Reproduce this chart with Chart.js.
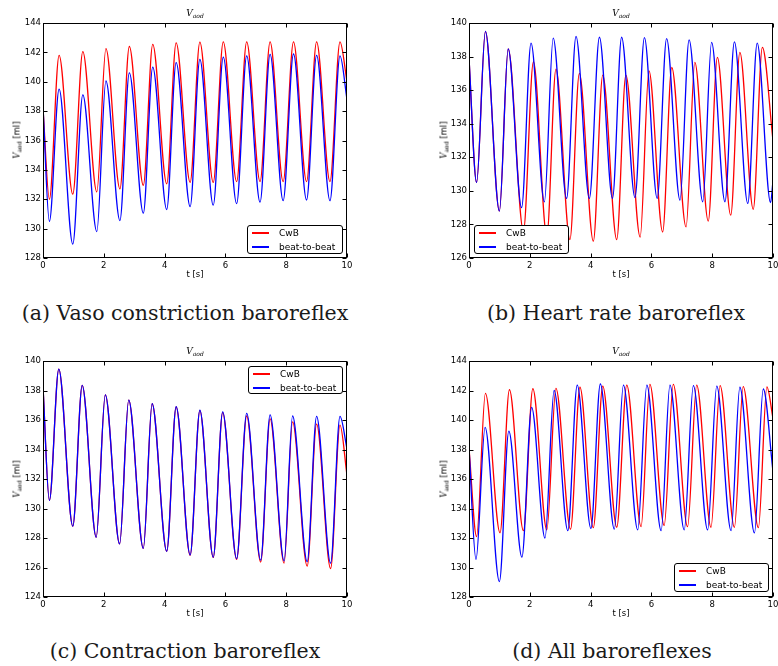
<!DOCTYPE html>
<html lang="en">
<head>
<meta charset="UTF-8">
<title>V_aod baroreflex comparison</title>
<script src="https://cdn.jsdelivr.net/npm/chart.js"></script>
<style>
  body { margin: 0; background: #fff; width: 778px; height: 666px; position: relative; overflow: hidden;
         font-family: "DejaVu Sans", sans-serif; color: #000; }
  canvas { position: absolute; }
  .cap { position: absolute; font-family: "DejaVu Serif", serif; font-size: 20.5px; color: #1a1a1a;
         white-space: nowrap; transform: translate(-50%, -50%); }
  .ttl { position: absolute; font-family: "DejaVu Serif", serif; font-style: italic; font-size: 9px;
         transform: translate(-50%, -50%); white-space: nowrap; }
  .ttl sub, .ylab sub { font-size: 6px; vertical-align: -2px; }
  .ylab { position: absolute; font-size: 8.5px; transform: translate(-50%, -50%) rotate(-90deg); white-space: nowrap; }
  .ylab i { font-family: "DejaVu Serif", serif; }
  .xlab { position: absolute; font-size: 8.5px; transform: translate(-50%, -50%); white-space: nowrap; }
  .legend { position: absolute; background: #fff; border: 1px solid #000; border-radius: 3px;
            font-size: 9px; box-sizing: border-box; }
  .legend div { position: relative; height: 14px; line-height: 14px; padding-left: 31px; white-space: nowrap; }
  .legend div span { position: absolute; left: 4px; top: 6px; width: 17px; height: 1.5px; }
</style>
</head>
<body>

<!-- (a) -->
<canvas id="cA" width="354" height="265" style="left:3px; top:13px"></canvas>
<div class="ttl" style="left:195px; top:13px">V<sub>aod</sub></div>
<div class="ylab" style="left:17px; top:140px"><i>V</i><sub>aod</sub> [ml]</div>
<div class="xlab" style="left:195px; top:274px">t [s]</div>
<div class="legend" style="left:247px; top:225px; width:96px; height:29px">
  <div><span style="background:#f00"></span>CwB</div>
  <div><span style="background:#00f"></span>beat-to-beat</div>
</div>
<div class="cap" style="left:185px; top:313px">(a) Vaso constriction baroreflex</div>

<!-- (b) -->
<canvas id="cB" width="354" height="265" style="left:429px; top:13px"></canvas>
<div class="ttl" style="left:621px; top:13px">V<sub>aod</sub></div>
<div class="ylab" style="left:444px; top:140px"><i>V</i><sub>aod</sub> [ml]</div>
<div class="xlab" style="left:621px; top:274px">t [s]</div>
<div class="legend" style="left:474px; top:225px; width:95px; height:29px">
  <div><span style="background:#f00"></span>CwB</div>
  <div><span style="background:#00f"></span>beat-to-beat</div>
</div>
<div class="cap" style="left:616px; top:313px">(b) Heart rate baroreflex</div>

<!-- (c) -->
<canvas id="cC" width="354" height="266" style="left:3px; top:351px"></canvas>
<div class="ttl" style="left:195px; top:351px">V<sub>aod</sub></div>
<div class="ylab" style="left:17px; top:479px"><i>V</i><sub>aod</sub> [ml]</div>
<div class="xlab" style="left:195px; top:613px">t [s]</div>
<div class="legend" style="left:248px; top:366px; width:95px; height:28px">
  <div><span style="background:#f00"></span>CwB</div>
  <div><span style="background:#00f"></span>beat-to-beat</div>
</div>
<div class="cap" style="left:185px; top:651px">(c) Contraction baroreflex</div>

<!-- (d) -->
<canvas id="cD" width="354" height="266" style="left:429px; top:351px"></canvas>
<div class="ttl" style="left:621px; top:351px">V<sub>aod</sub></div>
<div class="ylab" style="left:444px; top:479px"><i>V</i><sub>aod</sub> [ml]</div>
<div class="xlab" style="left:621px; top:613px">t [s]</div>
<div class="legend" style="left:674px; top:563px; width:95px; height:29px">
  <div><span style="background:#f00"></span>CwB</div>
  <div><span style="background:#00f"></span>beat-to-beat</div>
</div>
<div class="cap" style="left:612px; top:651px">(d) All baroreflexes</div>

<script>
    // (a) vaso constriction - both series share the beat times
    const aT    = [0, 0.21, 0.53, 0.98, 1.31, 1.77, 2.07, 2.53, 2.84, 3.30, 3.61, 4.07, 4.38, 4.84, 5.16, 5.60, 5.93, 6.37, 6.70, 7.14, 7.47, 7.90, 8.24, 8.67, 9.00, 9.44, 9.77, 10];
    const aRed  = [138.2, 132.0, 141.8, 132.35, 142.05, 132.5, 142.25, 132.7, 142.4, 132.95, 142.55, 133.05, 142.65, 133.15, 142.7, 133.15, 142.72, 133.2, 142.72, 133.2, 142.72, 133.2, 142.72, 133.2, 142.72, 133.2, 142.72, 140.0];
    const aBlue = [138.3, 130.5, 139.5, 128.95, 139.1, 129.8, 140.05, 130.55, 140.6, 131.05, 141.0, 131.3, 141.3, 131.5, 141.53, 131.6, 141.67, 131.7, 141.76, 131.8, 141.87, 131.9, 141.89, 131.95, 141.8, 131.9, 141.76, 138.8];

    // (b) heart rate
    const bRedT  = [0, 0.25, 0.54, 1.0, 1.29, 1.79, 2.12, 2.56, 2.86, 3.32, 3.63, 4.09, 4.40, 4.86, 5.16, 5.63, 5.92, 6.37, 6.67, 7.14, 7.43, 7.87, 8.17, 8.61, 8.91, 9.35, 9.65, 10];
    const bRed   = [137.9, 130.5, 139.5, 128.8, 138.45, 127.6, 137.7, 127.3, 137.25, 127.1, 137.0, 127.0, 136.9, 127.1, 136.9, 127.25, 137.15, 127.55, 137.35, 127.85, 137.65, 128.2, 137.95, 128.55, 138.25, 128.9, 138.55, 133.0];
    const bBlueT = [0, 0.25, 0.54, 1.0, 1.29, 1.73, 2.04, 2.48, 2.77, 3.21, 3.52, 3.96, 4.29, 4.72, 5.02, 5.46, 5.77, 6.19, 6.50, 6.94, 7.24, 7.69, 7.98, 8.42, 8.73, 9.17, 9.48, 9.92, 10];
    const bBlue  = [137.9, 130.5, 139.5, 128.8, 138.45, 129.0, 138.8, 129.35, 139.1, 129.55, 139.2, 129.55, 139.15, 129.55, 139.15, 129.6, 139.13, 129.55, 139.07, 129.45, 139.0, 129.35, 138.85, 129.35, 138.87, 129.25, 138.8, 129.3, 130.6];

    // (c) contraction
    const cT    = [0, 0.21, 0.52, 0.98, 1.29, 1.75, 2.05, 2.52, 2.82, 3.30, 3.59, 4.07, 4.38, 4.84, 5.16, 5.60, 5.91, 6.37, 6.70, 7.16, 7.47, 7.93, 8.21, 8.69, 9.00, 9.46, 9.77, 10];
    const cRed  = [138.25, 130.55, 139.45, 128.8, 138.35, 128.05, 137.7, 127.6, 137.35, 127.3, 137.1, 127.1, 136.88, 126.83, 136.63, 126.68, 136.5, 126.55, 136.27, 126.37, 136.07, 126.3, 135.87, 126.1, 135.72, 125.93, 135.65, 132.25];
    const cBlue = [138.25, 130.55, 139.45, 128.8, 138.35, 128.05, 137.7, 127.6, 137.35, 127.3, 137.1, 127.1, 136.9, 126.85, 136.66, 126.7, 136.55, 126.6, 136.45, 126.5, 136.35, 126.45, 136.27, 126.4, 136.25, 126.3, 136.25, 134.05];

    // (d) all baroreflexes
    const dRedT  = [0, 0.25, 0.54, 1.02, 1.33, 1.79, 2.10, 2.56, 2.86, 3.34, 3.65, 4.09, 4.40, 4.86, 5.19, 5.66, 5.95, 6.42, 6.72, 7.19, 7.49, 7.96, 8.26, 8.73, 9.02, 9.52, 9.80, 10];
    const dRed   = [138.1, 132.1, 141.8, 132.35, 142.05, 132.5, 142.12, 132.55, 142.15, 132.6, 142.22, 132.7, 142.3, 132.73, 142.37, 132.77, 142.42, 132.85, 142.42, 132.77, 142.37, 132.73, 142.33, 132.73, 142.26, 132.7, 142.24, 140.1];
    const dBlueT = [0, 0.23, 0.53, 1.0, 1.31, 1.74, 2.06, 2.50, 2.80, 3.25, 3.56, 4.01, 4.32, 4.78, 5.08, 5.55, 5.85, 6.32, 6.61, 7.08, 7.38, 7.85, 8.15, 8.62, 8.91, 9.39, 9.68, 10];
    const dBlue  = [138.1, 130.55, 139.5, 129.05, 139.25, 130.7, 140.85, 132.0, 142.0, 132.5, 142.37, 132.65, 142.44, 132.6, 142.37, 132.55, 142.37, 132.5, 142.37, 132.55, 142.33, 132.55, 142.3, 132.5, 142.22, 132.35, 142.1, 136.5];

    const xTicks = [0, 2, 4, 6, 8, 10];

    function pts(t, v) {
        return t.map((x, i) => ({ x: x, y: v[i] }));
    }

    // matplotlib-style box with inward ticks on all four sides
    const frame = {
        id: 'frame',
        afterDatasetsDraw(chart) {
            const { ctx, chartArea: a, scales: { x, y } } = chart;
            const L = Math.round(a.left) + 0.5, R = Math.round(a.right) - 0.5;
            const T = Math.round(a.top) + 0.5, B = Math.round(a.bottom) - 0.5;
            ctx.save();
            ctx.strokeStyle = '#000';
            ctx.lineWidth = 1;
            ctx.beginPath();
            x.ticks.forEach(tk => {
                const px = Math.round(x.getPixelForValue(tk.value)) + 0.5;
                ctx.moveTo(px, B); ctx.lineTo(px, B - 4);
                ctx.moveTo(px, T); ctx.lineTo(px, T + 4);
            });
            y.ticks.forEach(tk => {
                const py = Math.round(y.getPixelForValue(tk.value)) + 0.5;
                ctx.moveTo(L, py); ctx.lineTo(L + 4, py);
                ctx.moveTo(R, py); ctx.lineTo(R - 4, py);
            });
            ctx.stroke();
            ctx.strokeRect(L, T, R - L, B - T);
            ctx.restore();
        }
    };

    function makePanel(id, yMin, yMax, redT, redV, blueT, blueV) {
        const ctx = document.getElementById(id).getContext('2d');
        const tickFont = { family: 'DejaVu Sans', size: 8.5 };
        return new Chart(ctx, {
            type: 'line',
            data: {
                datasets: [{
                    label: 'CwB',
                    data: pts(redT, redV),
                    borderColor: '#ff0000',
                    order: 1
                }, {
                    label: 'beat-to-beat',
                    data: pts(blueT, blueV),
                    borderColor: '#0000ff',
                    order: 0
                }]
            },
            options: {
                responsive: false,
                animation: false,
                events: [],
                layout: { padding: { top: 10, right: 10, left: 0, bottom: 0 } },
                elements: {
                    line: { borderWidth: 1.3, cubicInterpolationMode: 'monotone', fill: false },
                    point: { radius: 0 }
                },
                plugins: { legend: { display: false }, tooltip: { enabled: false } },
                scales: {
                    x: {
                        type: 'linear', min: 0, max: 10,
                        afterBuildTicks: s => { s.ticks = xTicks.map(v => ({ value: v })); },
                        afterFit: s => { s.height = 20; },
                        ticks: { font: tickFont, color: '#000', padding: 3, maxRotation: 0 },
                        grid: { display: false, drawTicks: false },
                        border: { display: false }
                    },
                    y: {
                        min: yMin, max: yMax,
                        afterFit: s => { s.width = 40; },
                        ticks: { stepSize: 2, font: tickFont, color: '#000', padding: 2 },
                        grid: { display: false, drawTicks: false },
                        border: { display: false }
                    }
                }
            },
            plugins: [frame]
        });
    }

    makePanel('cA', 128, 144, aT, aRed, aT, aBlue);
    makePanel('cB', 126, 140, bRedT, bRed, bBlueT, bBlue);
    makePanel('cC', 124, 140, cT, cRed, cT, cBlue);
    makePanel('cD', 128, 144, dRedT, dRed, dBlueT, dBlue);
</script>
</body>
</html>
